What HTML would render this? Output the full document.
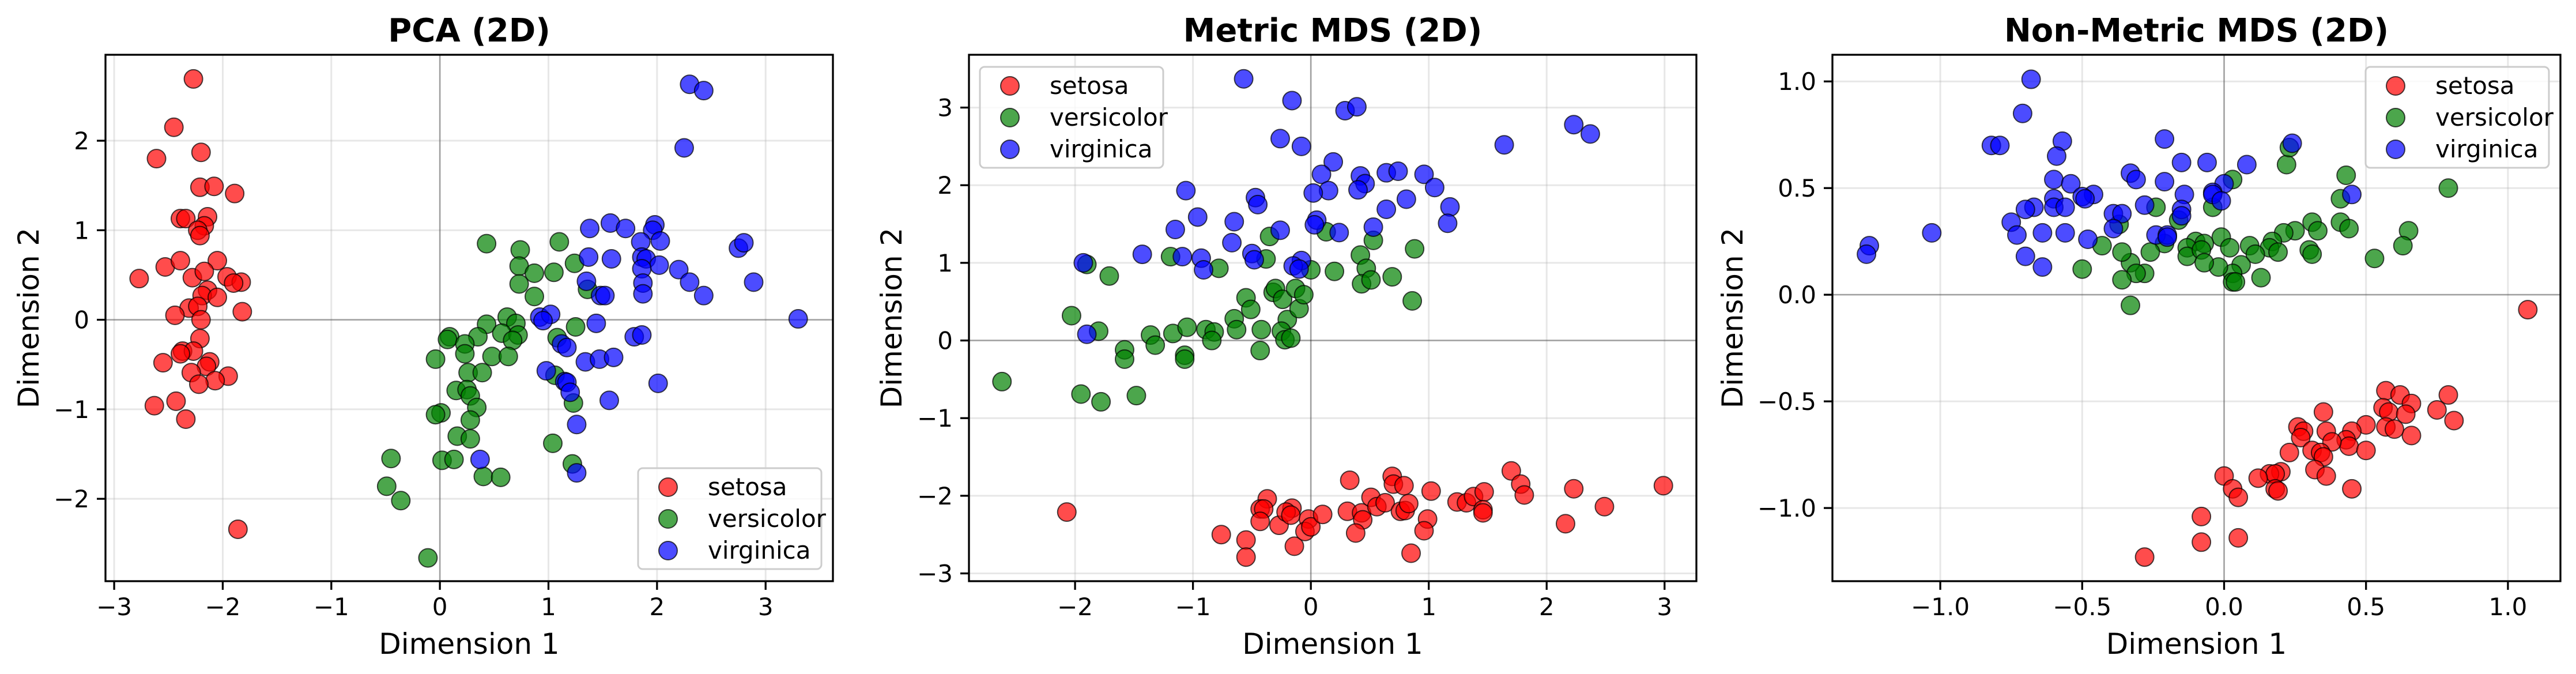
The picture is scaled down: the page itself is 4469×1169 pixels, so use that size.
<!DOCTYPE html>
<html><head><meta charset="utf-8"><style>
html,body{margin:0;padding:0;background:#fff;}
svg{display:block;font-family:"DejaVu Sans","Liberation Sans",sans-serif;}
</style></head><body>
<svg id="fig" width="4469" height="1169" viewBox="0 0 4469 1169" xmlns="http://www.w3.org/2000/svg"></svg>
<script>
// ---- data (PCA) ----
const pcaSetosaX=[-2.27,-2.45,-2.61,-2.20,-2.21,-2.08,-1.89,-2.39,-2.34,-2.14,-2.17,-2.23,-2.21,-2.77,-2.53,-2.39,-2.05,-2.28,-2.17,-1.96,-1.83,-1.90,-2.14,-2.19,-2.05,-2.31,-2.23,-2.44,-2.20,-1.82,-2.21,-2.37,-2.27,-2.55,-2.12,-2.15,-2.29,-1.95,-2.07,-2.22,-2.63,-2.43,-2.34,-1.86,-2.39];
const pcaSetosaY=[2.69,2.15,1.80,1.87,1.48,1.49,1.41,1.13,1.13,1.15,1.05,1.00,0.94,0.46,0.59,0.66,0.66,0.47,0.54,0.48,0.42,0.41,0.33,0.27,0.25,0.13,0.15,0.05,0.00,0.09,-0.21,-0.35,-0.35,-0.48,-0.47,-0.52,-0.59,-0.63,-0.68,-0.72,-0.96,-0.91,-1.11,-2.34,-0.38];
const pcaVersX=[0.43,1.10,0.74,0.73,0.87,1.05,1.24,0.73,0.87,1.36,0.62,0.70,0.43,1.25,0.57,0.35,0.72,0.67,0.09,0.07,0.23,1.08,0.23,-0.04,0.48,0.63,0.26,0.39,1.06,0.15,0.25,0.28,1.23,0.34,0.01,-0.04,0.28,0.16,0.28,1.04,-0.45,0.02,0.13,1.22,-0.49,-0.36,0.40,0.56,-0.11];
const pcaVersY=[0.85,0.87,0.78,0.60,0.52,0.53,0.63,0.40,0.26,0.34,0.03,-0.04,-0.05,-0.08,-0.15,-0.19,-0.17,-0.23,-0.19,-0.22,-0.27,-0.20,-0.38,-0.44,-0.41,-0.41,-0.59,-0.59,-0.62,-0.79,-0.78,-0.85,-0.93,-0.98,-1.04,-1.06,-1.12,-1.30,-1.33,-1.38,-1.55,-1.57,-1.56,-1.61,-1.86,-2.02,-1.75,-1.76,-2.66];
const pcaVirgX=[2.30,2.43,2.25,1.38,1.57,1.71,1.98,1.96,2.03,1.85,2.75,2.80,1.37,1.58,1.86,1.90,2.02,2.20,1.86,1.35,2.30,2.89,1.87,1.87,1.48,1.52,2.43,3.30,0.92,1.02,0.95,1.44,1.79,1.86,1.12,1.17,1.34,1.47,1.60,0.98,1.15,1.17,1.20,2.01,1.56,1.26,0.37,1.26];
const pcaVirgY=[2.63,2.56,1.92,1.02,1.08,1.02,1.06,1.00,0.88,0.87,0.80,0.86,0.70,0.68,0.70,0.68,0.61,0.56,0.57,0.43,0.42,0.42,0.41,0.29,0.27,0.27,0.27,0.01,0.03,0.06,-0.01,-0.04,-0.19,-0.17,-0.27,-0.31,-0.47,-0.44,-0.42,-0.57,-0.69,-0.70,-0.81,-0.71,-0.90,-1.17,-1.56,-1.71];
// ---- data (Metric MDS) ----
const mdsSetosaX=[-2.07,-0.76,-0.55,-0.55,-0.37,-0.43,-0.40,-0.43,-0.27,-0.16,-0.21,-0.17,-0.14,-0.02,-0.05,0.00,0.10,0.33,0.31,0.43,0.44,0.38,0.51,0.56,0.63,0.69,0.70,0.79,0.76,0.80,0.83,0.99,0.96,0.85,1.02,1.24,1.32,1.38,1.47,1.46,1.46,1.70,1.78,1.81,2.16,2.23,2.49,2.99];
const mdsSetosaY=[-2.21,-2.50,-2.57,-2.79,-2.04,-2.17,-2.17,-2.33,-2.38,-2.16,-2.21,-2.25,-2.65,-2.30,-2.46,-2.40,-2.24,-1.80,-2.20,-2.22,-2.31,-2.48,-2.02,-2.14,-2.09,-1.75,-1.85,-1.87,-2.20,-2.19,-2.10,-2.30,-2.45,-2.74,-1.94,-2.08,-2.09,-2.01,-1.95,-2.18,-2.22,-1.68,-1.85,-1.99,-2.36,-1.91,-2.14,-1.87];
const mdsVersX=[-2.62,-2.03,-1.95,-1.78,-1.71,-1.90,-1.80,-1.58,-1.58,-1.48,-1.36,-1.32,-1.19,-1.17,-1.05,-1.07,-1.07,-0.89,-0.82,-0.84,-0.78,-0.65,-0.63,-0.55,-0.51,-0.42,-0.43,-0.38,-0.35,-0.32,-0.30,-0.24,-0.20,-0.10,-0.25,-0.22,-0.17,-0.13,-0.06,0.00,0.13,0.20,0.42,0.47,0.43,0.51,0.53,0.69,0.88,0.86];
const mdsVersY=[-0.53,0.32,-0.69,-0.79,0.83,0.98,0.12,-0.12,-0.24,-0.71,0.07,-0.06,1.08,0.09,0.17,-0.19,-0.24,0.14,0.11,0.00,0.93,0.28,0.14,0.55,0.40,0.14,-0.13,1.05,1.34,0.62,0.67,0.53,0.27,0.41,0.12,0.01,0.03,0.67,0.59,0.91,1.40,0.89,1.10,0.93,0.73,0.78,1.29,0.82,1.18,0.51];
const mdsVirgX=[-0.57,-0.16,0.29,0.39,-0.26,-0.08,2.23,2.37,1.64,0.19,0.09,0.42,0.64,0.74,0.96,1.05,0.46,0.40,0.15,0.02,-1.06,-0.47,-0.45,0.81,0.64,1.18,1.16,-0.96,-0.65,0.05,0.03,0.53,-1.15,-0.26,0.24,-0.67,-1.43,-1.09,-0.93,-0.50,-0.48,-0.08,-0.15,-0.10,-0.91,-1.93,-1.90];
const mdsVirgY=[3.37,3.09,2.96,3.01,2.60,2.50,2.78,2.66,2.52,2.30,2.14,2.12,2.16,2.18,2.14,1.97,2.02,1.94,1.93,1.90,1.93,1.84,1.75,1.82,1.69,1.72,1.51,1.59,1.53,1.55,1.49,1.46,1.43,1.42,1.39,1.26,1.11,1.08,1.06,1.12,1.04,1.03,0.96,0.92,0.91,1.00,0.08];
// ---- data (Non-Metric MDS) ----
const nmdsSetosaX=[1.07,0.57,0.62,0.66,0.79,0.81,0.75,0.56,0.58,0.64,0.66,0.57,0.60,0.50,0.35,0.26,0.28,0.27,0.36,0.45,0.43,0.44,0.50,0.38,0.31,0.34,0.35,0.23,0.32,0.36,0.45,0.20,0.16,0.18,0.12,0.18,0.19,0.00,0.03,0.05,-0.08,-0.08,0.05,-0.28];
const nmdsSetosaY=[-0.07,-0.45,-0.47,-0.51,-0.47,-0.59,-0.54,-0.53,-0.55,-0.56,-0.66,-0.62,-0.63,-0.61,-0.55,-0.62,-0.64,-0.67,-0.64,-0.64,-0.68,-0.71,-0.73,-0.69,-0.73,-0.74,-0.76,-0.74,-0.82,-0.85,-0.91,-0.83,-0.84,-0.84,-0.86,-0.91,-0.92,-0.85,-0.91,-0.95,-1.04,-1.16,-1.14,-1.23];
const nmdsVersX=[0.79,0.43,0.41,0.22,0.23,0.03,-0.04,-0.24,0.31,0.33,0.41,0.44,0.65,0.63,0.53,0.25,0.21,0.17,0.16,0.19,0.30,0.31,0.09,0.11,-0.01,0.02,0.06,0.03,0.03,0.04,0.13,-0.02,-0.10,-0.07,-0.13,-0.13,-0.08,-0.07,-0.16,-0.21,-0.26,-0.28,-0.33,-0.31,-0.36,-0.36,-0.33,-0.43,-0.50,-0.37];
const nmdsVersY=[0.50,0.56,0.45,0.61,0.69,0.54,0.41,0.41,0.34,0.30,0.34,0.31,0.30,0.23,0.17,0.30,0.29,0.25,0.22,0.20,0.21,0.19,0.23,0.19,0.27,0.22,0.14,0.10,0.06,0.06,0.08,0.13,0.25,0.24,0.22,0.18,0.21,0.15,0.35,0.24,0.20,0.10,0.15,0.10,0.20,0.07,-0.05,0.23,0.12,0.33];
const nmdsVirgX=[-0.68,-0.71,-0.82,-0.79,-0.57,-0.59,-0.21,-0.15,-0.06,0.08,0.24,0.45,-0.60,-0.54,-0.33,-0.31,-0.21,0.00,-0.04,-0.04,-0.01,-0.14,-0.46,-0.50,-0.49,-0.60,-0.60,-0.56,-0.67,-0.70,-0.28,-0.15,-0.15,-0.39,-0.36,-0.39,-0.24,-0.20,-0.20,-0.75,-0.73,-0.64,-0.56,-0.48,-0.70,-0.64,-1.03,-1.25,-1.26];
const nmdsVirgY=[1.01,0.85,0.70,0.70,0.72,0.65,0.73,0.62,0.62,0.61,0.71,0.47,0.54,0.52,0.57,0.54,0.53,0.52,0.48,0.47,0.44,0.47,0.47,0.46,0.45,0.45,0.41,0.41,0.41,0.40,0.42,0.40,0.37,0.38,0.38,0.31,0.28,0.28,0.27,0.34,0.28,0.29,0.29,0.26,0.18,0.13,0.29,0.23,0.19];
// ---- ticks ----
const pcaXTicks=[-3,-2,-1,0,1,2,3];
const pcaYTicks=[-2,-1,0,1,2];
const mdsXTicks=[-2,-1,0,1,2,3];
const mdsYTicks=[-3,-2,-1,0,1,2,3];
const nmdsXTicks=[-1.0,-0.5,0.0,0.5,1.0];
const nmdsYTicks=[-1.0,-0.5,0.0,0.5,1.0];
const classNames=["setosa","versicolor","virginica"];
const classColors=["#ff0000","#008000","#0000ff"];

const NS="http://www.w3.org/2000/svg";
const fig=document.getElementById('fig');
function mk(tag,attrs,parent,text){const e=document.createElementNS(NS,tag);for(const k in attrs)e.setAttribute(k,attrs[k]);if(text!==undefined)e.textContent=text;(parent||fig).appendChild(e);return e;}
function fmt(v,dec){let s=v.toFixed(dec);if(v<0)s='\u2212'+s.slice(1);return s;}

const panels=[
 {name:'pca',title:'PCA (2D)',L:183,R:1445,T:95,B:1008,x0:-3.08,x1:3.62,y0:-2.92,y1:2.96,xt:pcaXTicks,yt:pcaYTicks,dec:0,ylx:50,
  series:[[pcaSetosaX,pcaSetosaY],[pcaVersX,pcaVersY],[pcaVirgX,pcaVirgY]],leg:{x:1107,y:812}},
 {name:'metric-mds',title:'Metric MDS (2D)',L:1681,R:2943,T:95,B:1008,x0:-2.90,x1:3.27,y0:-3.10,y1:3.68,xt:mdsXTicks,yt:mdsYTicks,dec:0,ylx:1547,
  series:[[mdsSetosaX,mdsSetosaY],[mdsVersX,mdsVersY],[mdsVirgX,mdsVirgY]],leg:{x:1700,y:116}},
 {name:'non-metric-mds',title:'Non-Metric MDS (2D)',L:3179,R:4442,T:95,B:1008,x0:-1.38,x1:1.185,y0:-1.343,y1:1.125,xt:nmdsXTicks,yt:nmdsYTicks,dec:1,ylx:3006,
  series:[[nmdsSetosaX,nmdsSetosaY],[nmdsVersX,nmdsVersY],[nmdsVirgX,nmdsVirgY]],leg:{x:4104,y:116}}
];

panels.forEach(p=>{
  const g=mk('g',{});
  
  
  const sx=v=>p.L+(v-p.x0)/(p.x1-p.x0)*(p.R-p.L);
  const sy=v=>p.B-(v-p.y0)/(p.y1-p.y0)*(p.B-p.T);
  const cx=(p.L+p.R)/2, cy=(p.T+p.B)/2;
  const t=mk('text',{x:cx,y:72,'text-anchor':'middle','font-size':56,'font-weight':'bold',fill:'#000'},g,p.title);
  
  
  p.xt.forEach(v=>{const l=mk('line',{x1:sx(v),x2:sx(v),y1:p.T,y2:p.B,stroke:'#b0b0b0','stroke-opacity':0.3,'stroke-width':3},g);
    });
  p.yt.forEach(v=>{const l=mk('line',{x1:p.L,x2:p.R,y1:sy(v),y2:sy(v),stroke:'#b0b0b0','stroke-opacity':0.3,'stroke-width':3},g);
    });
  const zx=mk('line',{x1:sx(0),x2:sx(0),y1:p.T,y2:p.B,stroke:'#000','stroke-opacity':0.3,'stroke-width':2.5},g);
  
  const zy=mk('line',{x1:p.L,x2:p.R,y1:sy(0),y2:sy(0),stroke:'#000','stroke-opacity':0.3,'stroke-width':2.5},g);
  
  p.series.forEach((s,ci)=>{
    const sg=mk('g',{},g);
    
    
    s[0].forEach((xv,i)=>{
      const c=mk('circle',{cx:sx(xv),cy:sy(s[1][i]),r:16,fill:classColors[ci],'fill-opacity':0.7,stroke:'#000','stroke-opacity':0.7,'stroke-width':2},sg);
      
      
    });
  });
  const fr=mk('rect',{x:p.L,y:p.T,width:p.R-p.L,height:p.B-p.T,fill:'none',stroke:'#000','stroke-width':3.3},g);
  
  p.xt.forEach(v=>{const x=sx(v);
    const tk=mk('line',{x1:x,x2:x,y1:p.B,y2:p.B+15,stroke:'#000','stroke-width':3.3},g);
    
    const tl=mk('text',{x:x,y:p.B+59,'text-anchor':'middle','font-size':42,fill:'#000'},g,fmt(v,p.dec));
    });
  p.yt.forEach(v=>{const y=sy(v);
    const tk=mk('line',{x1:p.L-15,x2:p.L,y1:y,y2:y,stroke:'#000','stroke-width':3.3},g);
    
    const tl=mk('text',{x:p.L-28,y:y+15,'text-anchor':'end','font-size':42,fill:'#000'},g,fmt(v,p.dec));
    });
  const xl=mk('text',{x:cx,y:1134,'text-anchor':'middle','font-size':50,fill:'#000'},g,'Dimension 1');
  
  const yl=mk('text',{x:p.ylx,y:cy,'text-anchor':'middle','dominant-baseline':'central','font-size':50,fill:'#000',transform:`rotate(-90 ${p.ylx} ${cy})`},g,'Dimension 2');
  
  const lg=mk('g',{},g);
  
  const lb=mk('rect',{x:p.leg.x,y:p.leg.y,width:318,height:175,rx:8,fill:'#fff','fill-opacity':0.8,stroke:'#cccccc','stroke-width':3},lg);
  
  classNames.forEach((n,ci)=>{
    const y=p.leg.y+33+ci*55;
    const m=mk('circle',{cx:p.leg.x+52,cy:y,r:16,fill:classColors[ci],'fill-opacity':0.7,stroke:'#000','stroke-opacity':0.7,'stroke-width':2},lg);
    
    const tx=mk('text',{x:p.leg.x+121,y:y+14,'font-size':42,fill:'#000'},lg,n);
    
  });
});
</script>
</body></html>
